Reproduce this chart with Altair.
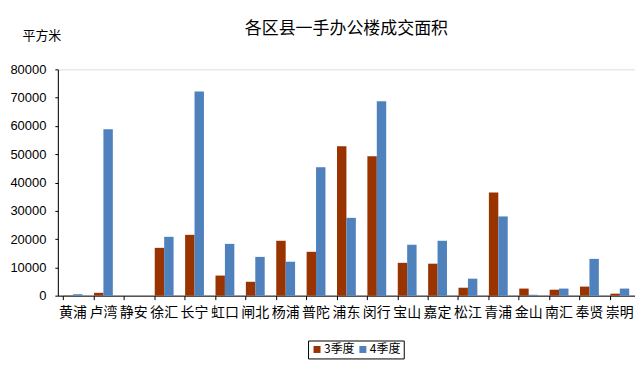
import altair as alt
import pandas as pd

districts = ["黄浦", "卢湾", "静安", "徐汇", "长宁", "虹口", "闸北", "杨浦", "普陀", "浦东",
             "闵行", "宝山", "嘉定", "松江", "青浦", "金山", "南汇", "奉贤", "崇明"]
q3 = [100, 1000, 0, 16900, 21500, 7100, 4900, 19400, 15500, 52800,
      49300, 11600, 11300, 2800, 36500, 2500, 2100, 3200, 700]
q4 = [500, 58800, 0, 20800, 72200, 18300, 13700, 12000, 45400, 27500,
      68700, 18000, 19400, 6000, 28000, 300, 2500, 13000, 2500]
series = ["3季度", "4季度"]
colors = ["#993300", "#4F81BD"]

rows = []
for d, a, b in zip(districts, q3, q4):
    rows.append({"区县": d, "季度": series[0], "面积": a})
    rows.append({"区县": d, "季度": series[1], "面积": b})
df = pd.DataFrame(rows)

chart = alt.Chart(df).mark_bar().encode(
    x=alt.X("区县:N", sort=districts,
            scale=alt.Scale(paddingInner=0.38, paddingOuter=0.19),
            axis=alt.Axis(title=None, labelAngle=0, labelFontSize=14, labelColor="#000",
                          labelFont="Noto Sans CJK SC", labelPadding=6,
                          tickSize=4, tickColor="#000", bandPosition=0,
                          domainColor="#000", grid=False)),
    xOffset=alt.XOffset("季度:N", sort=series, scale=alt.Scale(paddingInner=0, paddingOuter=0)),
    y=alt.Y("面积:Q", scale=alt.Scale(domain=[0, 80000], nice=False),
            axis=alt.Axis(values=list(range(0, 80001, 10000)), format="d",
                          title="平方米", titleAngle=0, titleX=-36, titleY=-34,
                          titleAlign="left", titleBaseline="middle",
                          titleFont="Noto Sans CJK SC", titleFontSize=13,
                          titleFontWeight="normal", titleColor="#000",
                          labelFontSize=13, labelColor="#000", labelFont="Liberation Sans",
                          labelPadding=9, tickSize=3, tickColor="#000",
                          domainColor="#000", grid=False)),
    color=alt.Color("季度:N", sort=series,
                    scale=alt.Scale(domain=series, range=colors),
                    legend=alt.Legend(title=None, orient="none", legendX=251, legendY=272,
                                      direction="horizontal", symbolType="square",
                                      symbolSize=49, symbolStrokeWidth=0,
                                      labelFontSize=12, labelFont="Noto Sans CJK SC",
                                      labelColor="#000", columnPadding=2,
                                      symbolOffset=0, labelOffset=1,
                                      strokeColor="#000", padding=3, fillColor="#fff")),
).properties(
    width=579, height=227,
    title=alt.TitleParams("各区县一手办公楼成交面积", fontSize=17, font="Noto Sans CJK SC",
                          fontWeight="normal", color="#000", anchor="middle", offset=-9),
    autosize=alt.AutoSizeParams(type="none"),
    padding={"left": 50, "top": 61, "right": 0, "bottom": 66},
).configure_view(stroke="#808080", strokeWidth=1).configure(background="#ffffff")

chart.save("out.html", embed_options={"renderer": "svg", "actions": False})
